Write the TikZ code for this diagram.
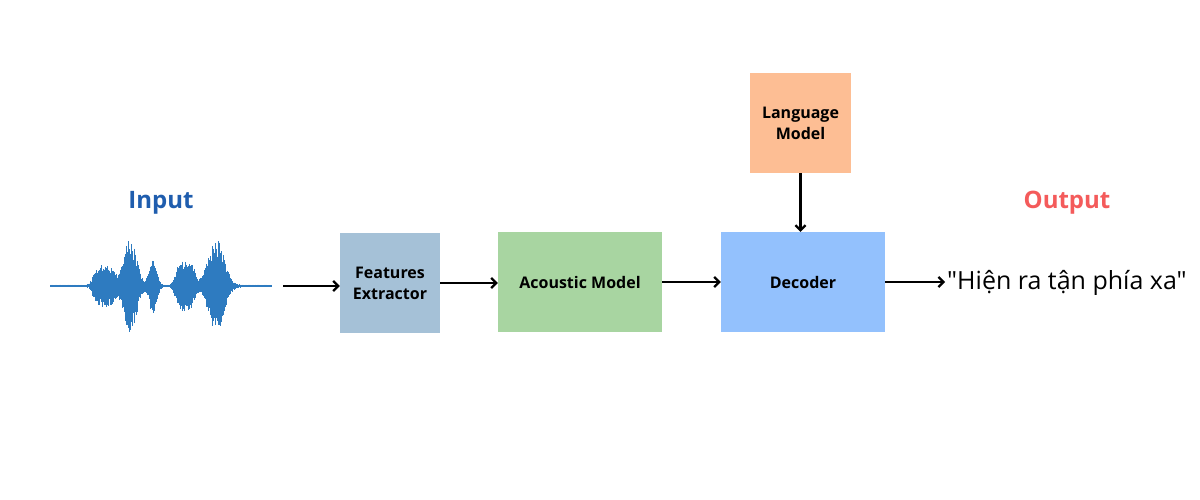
\documentclass[tikz,border=0pt]{standalone}
\usepackage{fontspec}
\setmainfont{Open Sans}
\newfontfamily\quotefont{Open Sans}
\usetikzlibrary{arrows.meta}
\definecolor{fecol}{HTML}{A5C1D7}
\definecolor{amcol}{HTML}{A8D5A1}
\definecolor{deccol}{HTML}{93C1FD}
\definecolor{lmcol}{HTML}{FDBE94}
\definecolor{incol}{HTML}{1F5DAE}
\definecolor{outcol}{HTML}{F45B5B}
\definecolor{wavecol}{HTML}{2E7BC0}
\tikzset{
  blockbox/.style={draw=none, inner sep=0pt, align=center, font=\fontsize{16}{21}\selectfont\bfseries},
  flowarrow/.style={-{Straight Barb[length=5pt,width=10pt]}, line width=2.3pt, black},
  titletext/.style={font=\fontsize{24}{28}\selectfont\bfseries}
}
\begin{document}
\begin{tikzpicture}[x=1pt,y=-1pt]
\useasboundingbox (0,0) rectangle (1200,500);
\fill[white] (0,0) rectangle (1200,500);
% waveform
\pgfmathsetseed{7}
\foreach \x in {50,50.6,...,272}{
  \pgfmathsetmacro{\ga}{min(abs((\x-104)/12),2.5)}
  \pgfmathsetmacro{\gb}{min(abs((\x-130)/9),5)}
  \pgfmathsetmacro{\gc}{min(abs((\x-153)/5),5)}
  \pgfmathsetmacro{\gd}{min(abs((\x-185)/11),2.5)}
  \pgfmathsetmacro{\ge}{min(abs((\x-216)/11),5)}
  \pgfmathsetmacro{\env}{1.2 + 20*exp(-\ga^4) + 47*exp(-\gb^2) + 27*exp(-\gc^2) + 24*exp(-\gd^4) + 47*exp(-\ge^2)}
  \pgfmathsetmacro{\ampa}{\env*(0.6+0.4*rnd)}
  \pgfmathsetmacro{\ampb}{\env*(0.6+0.4*rnd)}
  \draw[wavecol, line width=0.8pt] (\x,286-\ampa) -- (\x,286+\ampb);
}
\node[titletext, text=incol] (input) at (161,203) {Input};
\node[titletext, text=outcol] (output) at (1067,203) {Output};
\node[blockbox, fill=fecol, minimum width=100pt, minimum height=100pt] (fe) at (390,283) {Features\\Extractor};
\node[blockbox, fill=amcol, minimum width=164pt, minimum height=100pt] (am) at (580,282) {Acoustic Model};
\node[blockbox, fill=deccol, minimum width=164pt, minimum height=100pt] (dec) at (803,282) {Decoder};
\node[blockbox, fill=lmcol, minimum width=101pt, minimum height=100pt] (lm) at (800.5,123) {Language\\Model};
\node[anchor=west, inner sep=0pt, font=\quotefont\fontsize{25}{29}\selectfont] (txt) at (947,283) {"Hiện ra tận phía xa"};
\coordinate (wave) at (283,286);
\draw[flowarrow] (wave) -- (wave -| fe.west);
\draw[flowarrow] (fe.east) -- (fe.east -| am.west);
\draw[flowarrow] (am.east) -- (dec.west);
\draw[flowarrow] (dec.east) -- ([xshift=-2pt]dec.east -| txt.west);
\draw[flowarrow] (lm.south) -- (lm.south |- dec.north);
\end{tikzpicture}
\end{document}
